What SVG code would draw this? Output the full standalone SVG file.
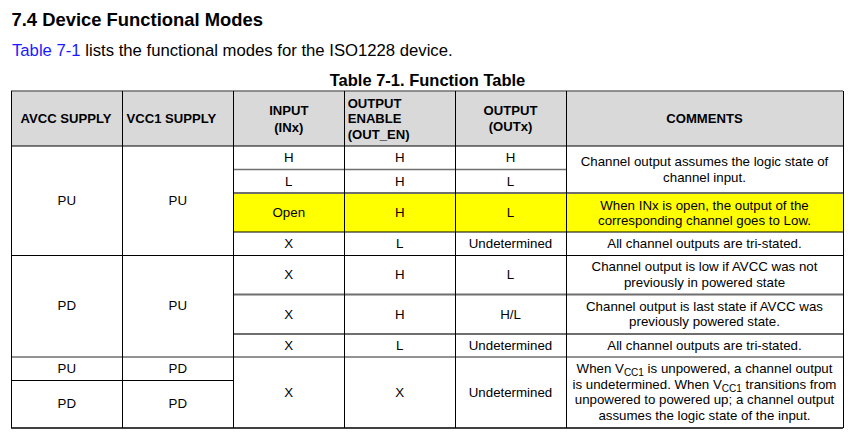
<svg xmlns="http://www.w3.org/2000/svg" width="850" height="434" viewBox="0 0 850 434">
<style>
text{font-family:"Liberation Sans",Arial,sans-serif;fill:#000}
.h1{font-size:18.4px;font-weight:bold}
.p{font-size:16.7px}
.cap{font-size:16.5px;font-weight:bold}
.th{font-size:13.1px;font-weight:bold}
.td{font-size:13.3px;text-anchor:middle}
.c{text-anchor:middle}
.sub{font-size:10px}
.hl{stroke:#6f6f6f;stroke-width:1.5}
.bl{stroke:#000;stroke-width:1}
</style>
<rect width="850" height="434" fill="#fff"/>
<text class="h1" x="11.5" y="25.5">7.4 Device Functional Modes</text>
<text class="p" x="12" y="55.5"><tspan fill="#1a1aff">Table 7-1</tspan> lists the functional modes for the ISO1228 device.</text>
<text class="cap c" x="427.5" y="86">Table 7-1. Function Table</text>

<g id="backgrounds">
<rect x="11" y="91" width="832" height="55" fill="#d9d9d9"/>
<rect x="233" y="193" width="610" height="39" fill="#ffff00"/>
</g>

<g id="grid" fill="none">
<line class="hl" x1="11" y1="91" x2="843" y2="91"/>
<line class="bl" x1="11" y1="146" x2="843" y2="146"/>
<line class="hl" x1="233" y1="169.5" x2="566" y2="169.5"/>
<line class="hl" x1="233" y1="193" x2="843" y2="193" style="stroke-width:2"/>
<line class="bl" x1="233" y1="232" x2="843" y2="232"/>
<line class="bl" x1="11" y1="255.5" x2="843" y2="255.5"/>
<line class="hl" x1="233" y1="294.5" x2="843" y2="294.5" style="stroke-width:2"/>
<line class="hl" x1="233" y1="334" x2="843" y2="334" style="stroke-width:2"/>
<line class="hl" x1="11" y1="357" x2="843" y2="357"/>
<line class="bl" x1="11" y1="380.5" x2="233" y2="380.5"/>
<line class="bl" x1="11" y1="428" x2="843" y2="428" style="stroke-width:1.5"/>
<line class="bl" x1="11.5" y1="91" x2="11.5" y2="428"/>
<line class="bl" x1="122.5" y1="91" x2="122.5" y2="428"/>
<line class="bl" x1="233.5" y1="91" x2="233.5" y2="428"/>
<line class="bl" x1="344.5" y1="91" x2="344.5" y2="428"/>
<line class="bl" x1="455.5" y1="91" x2="455.5" y2="428"/>
<line class="bl" x1="566.5" y1="91" x2="566.5" y2="428"/>
<line class="bl" x1="843.5" y1="91" x2="843.5" y2="428"/>
</g>

<g id="header">
<text class="th" x="20.5" y="122.7">AVCC SUPPLY</text>
<text class="th" x="126.5" y="122.7">VCC1 SUPPLY</text>
<text class="th c" x="288.8" y="115"><tspan x="288.8">INPUT</tspan><tspan x="288.8" dy="16.5">(INx)</tspan></text>
<text class="th" x="347.7" y="107.7"><tspan x="347.7">OUTPUT</tspan><tspan x="347.7" dy="15.5">ENABLE</tspan><tspan x="347.7" dy="15.5">(OUT_EN)</tspan></text>
<text class="th c" x="510.5" y="115"><tspan x="510.5">OUTPUT</tspan><tspan x="510.5" dy="16">(OUTx)</tspan></text>
<text class="th c" x="704.5" y="122.7">COMMENTS</text>
</g>

<g id="block1">
<text class="td" x="66.8" y="205.2">PU</text>
<text class="td" x="177.8" y="205.2">PU</text>
<text class="td" x="288.8" y="162.2">H</text>
<text class="td" x="399.8" y="162.2">H</text>
<text class="td" x="510.5" y="162.2">H</text>
<text class="td" x="288.8" y="185.5">L</text>
<text class="td" x="399.8" y="185.5">H</text>
<text class="td" x="510.5" y="185.5">L</text>
<text class="td" x="704.5" y="166"><tspan x="704.5">Channel output assumes the logic state of</tspan><tspan x="704.5" dy="15.5">channel input.</tspan></text>
<text class="td" x="288.8" y="217">Open</text>
<text class="td" x="399.8" y="217">H</text>
<text class="td" x="510.5" y="217">L</text>
<text class="td" x="704.5" y="209.5"><tspan x="704.5">When INx is open, the output of the</tspan><tspan x="704.5" dy="15">corresponding channel goes to Low.</tspan></text>
<text class="td" x="288.8" y="248.3">X</text>
<text class="td" x="399.8" y="248.3">L</text>
<text class="td" x="510.5" y="248.3">Undetermined</text>
<text class="td" x="704.5" y="248.3">All channel outputs are tri-stated.</text>
</g>

<g id="block2">
<text class="td" x="66.8" y="310.3">PD</text>
<text class="td" x="177.8" y="310.3">PU</text>
<text class="td" x="288.8" y="279.3">X</text>
<text class="td" x="399.8" y="279.3">H</text>
<text class="td" x="510.5" y="279.3">L</text>
<text class="td" x="704.5" y="271"><tspan x="704.5">Channel output is low if AVCC was not</tspan><tspan x="704.5" dy="15.5">previously in powered state</tspan></text>
<text class="td" x="288.8" y="318.5">X</text>
<text class="td" x="399.8" y="318.5">H</text>
<text class="td" x="510.5" y="318.5">H/L</text>
<text class="td" x="704.5" y="310.5"><tspan x="704.5">Channel output is last state if AVCC was</tspan><tspan x="704.5" dy="15.5">previously powered state.</tspan></text>
<text class="td" x="288.8" y="350">X</text>
<text class="td" x="399.8" y="350">L</text>
<text class="td" x="510.5" y="350">Undetermined</text>
<text class="td" x="704.5" y="350">All channel outputs are tri-stated.</text>
</g>

<g id="block3">
<text class="td" x="66.8" y="373.3">PU</text>
<text class="td" x="177.8" y="373.3">PD</text>
<text class="td" x="66.8" y="408.2">PD</text>
<text class="td" x="177.8" y="408.2">PD</text>
<text class="td" x="288.8" y="397.3">X</text>
<text class="td" x="399.8" y="397.3">X</text>
<text class="td" x="510.5" y="397.3">Undetermined</text>
<text class="td" x="704.5" y="373">When V<tspan class="sub" dy="3">CC1</tspan><tspan dy="-3"> is unpowered, a channel output</tspan></text>
<text class="td" x="704.5" y="388.5">is undetermined. When V<tspan class="sub" dy="3">CC1</tspan><tspan dy="-3"> transitions from</tspan></text>
<text class="td" x="704.5" y="404.2">unpowered to powered up; a channel output</text>
<text class="td" x="704.5" y="420">assumes the logic state of the input.</text>
</g>
</svg>
